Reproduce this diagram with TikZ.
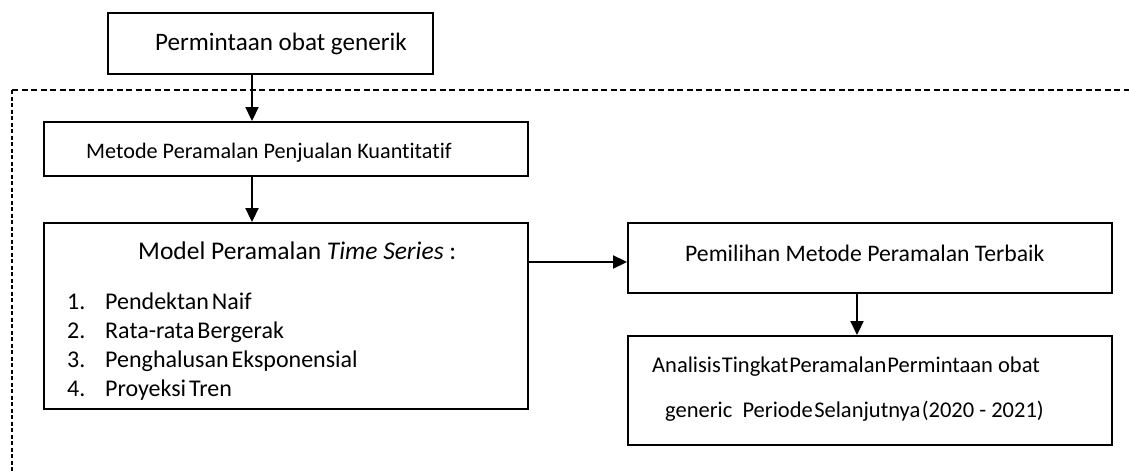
\documentclass[tikz,border=0pt]{standalone}
\usepackage{fontspec}
\setmainfont{Carlito}[Ligatures={NoCommon}]
\usetikzlibrary{arrows.meta}
\begin{document}
\begin{tikzpicture}[x=1pt,y=-1pt,
  box/.style={draw=black, line width=1.9pt, rectangle, inner sep=0pt},
  txt/.style={inner sep=0pt, anchor=base west},
  arr/.style={draw=black, line width=1.9pt, -{Triangle[length=14pt,width=13pt]}}]
\useasboundingbox (0,0) rectangle (1129,471);
% dashed frame
\coordinate (fl) at (12,471);
\coordinate (fc) at (12,90);
\coordinate (fr) at (1129,90);
\draw[line width=1.8pt, dash pattern=on 6pt off 3.5pt] (fc) -- (fr);
\draw[line width=1.3pt, dash pattern=on 4pt off 2.5pt] (fc) -- (fl);
% boxes
\node[box, minimum width=325, minimum height=61] (b1) at (270.5,43.5) {};
\node[box, minimum width=484, minimum height=54] (b2) at (286,149) {};
\node[box, minimum width=484, minimum height=186] (b3) at (286,316) {};
\node[box, minimum width=484, minimum height=70] (b4) at (870,258) {};
\node[box, minimum width=484, minimum height=109] (b5) at (870,390.5) {};
% texts
\node[txt, font=\fontsize{25.1}{28}\selectfont] (t1) at (155,50.7) {Permintaan obat generik};
\node[txt, font=\fontsize{22.2}{26}\selectfont] (t2) at (86,158) {Metode Peramalan Penjualan Kuantitatif};
\node[txt, font=\fontsize{25.5}{28}\selectfont] (t3) at (138,259) {Model Peramalan \textit{Time Series} :};
\node[txt, font=\fontsize{24}{28}\selectfont] (i1) at (67,309) {\makebox[38pt][l]{1.}{\spaceskip=3pt Pendektan Naif}};
\node[txt, font=\fontsize{24}{28}\selectfont] (i2) at (67,338) {\makebox[38pt][l]{2.}{\spaceskip=3pt Rata-rata Bergerak}};
\node[txt, font=\fontsize{24}{28}\selectfont] (i3) at (67,367) {\makebox[38pt][l]{3.}{\spaceskip=3pt Penghalusan Eksponensial}};
\node[txt, font=\fontsize{24}{28}\selectfont] (i4) at (67,396) {\makebox[38pt][l]{4.}{\spaceskip=3pt Proyeksi Tren}};
\node[txt, font=\fontsize{23.7}{28}\selectfont] (t5) at (685,261) {Pemilihan Metode Peramalan Terbaik};
\node[txt, font=\fontsize{22.5}{26}\selectfont] (t6) at (652,372) {{\spaceskip=1pt Analisis Tingkat Peramalan Permintaan} obat};
\node[txt, font=\fontsize{22.5}{26}\selectfont] (t7) at (665,417) {generic\ \ {\spaceskip=1.5pt Periode Selanjutnya (2020} - 2021)};
% arrows
\coordinate (ax) at (252,0);
\coordinate (bx) at (857,0);
\coordinate (cy) at (0,262);
\draw[arr] (b1.south -| ax) -- (b2.north -| ax);
\draw[arr] (b2.south -| ax) -- (b3.north -| ax);
\draw[arr] (b3.east |- cy) -- (b4.west |- cy);
\draw[arr] (b4.south -| bx) -- (b5.north -| bx);
\end{tikzpicture}
\end{document}
